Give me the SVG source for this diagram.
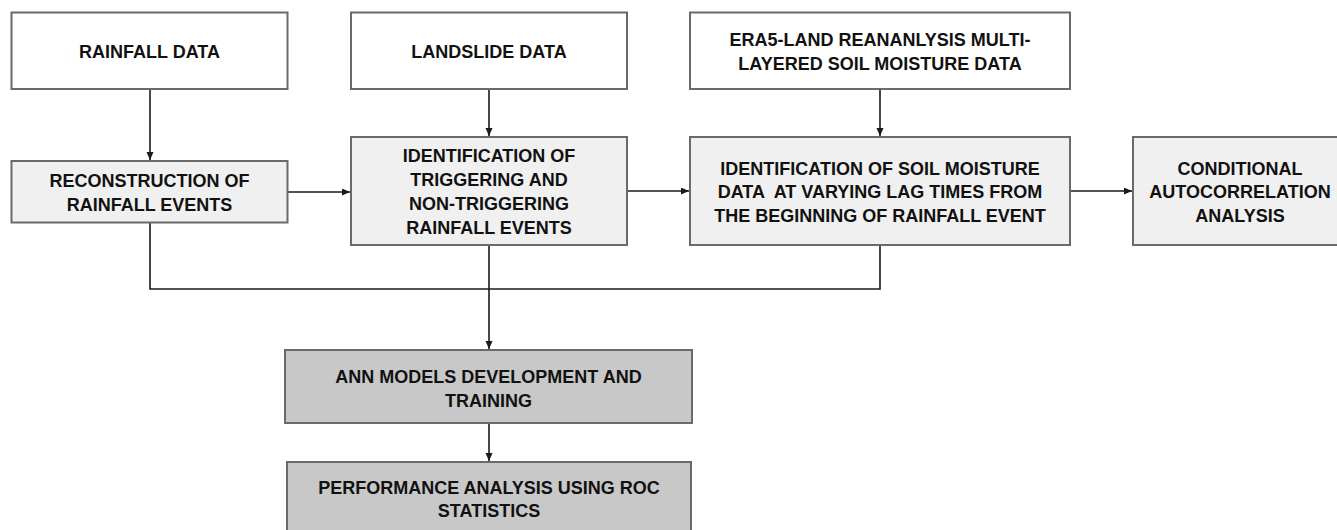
<svg xmlns="http://www.w3.org/2000/svg" width="1337" height="530" viewBox="0 0 1337 530">
<style>
.box{stroke:#6a6a6a;stroke-width:2}
.w{fill:#ffffff}
.l{fill:#f0f0f0}
.g{fill:#c8c8c8}
text{font-family:"Liberation Sans",Arial,sans-serif;font-weight:bold;font-size:18px;fill:#111;text-anchor:middle}
.c{fill:none;stroke:#1a1a1a;stroke-width:1.6}
</style>
<defs>
<marker id="ah" markerUnits="userSpaceOnUse" markerWidth="9" markerHeight="8" refX="8" refY="3.5" orient="auto">
<path d="M0,0 L8,3.5 L0,7 z" fill="#1a1a1a"/>
</marker>
</defs>
<rect width="1337" height="530" fill="#ffffff"/>
<g id="connectors">
<line class="c" x1="150" y1="89" x2="150" y2="160" marker-end="url(#ah)"/>
<line class="c" x1="489" y1="89" x2="489" y2="136" marker-end="url(#ah)"/>
<line class="c" x1="880" y1="89" x2="880" y2="136" marker-end="url(#ah)"/>
<line class="c" x1="287.5" y1="192" x2="350" y2="192" marker-end="url(#ah)"/>
<line class="c" x1="627" y1="191" x2="689" y2="191" marker-end="url(#ah)"/>
<line class="c" x1="1070" y1="191" x2="1132" y2="191" marker-end="url(#ah)"/>
<polyline class="c" points="150,222.5 150,289 880,289 880,245"/>
<line class="c" x1="489" y1="245" x2="489" y2="349" marker-end="url(#ah)"/>
<line class="c" x1="489" y1="423" x2="489" y2="461" marker-end="url(#ah)"/>
</g>
<g id="rainfall-data">
<rect class="box w" x="11.5" y="12.5" width="276" height="76.5"/>
<text x="149.5" y="58">RAINFALL DATA</text>
</g>
<g id="landslide-data">
<rect class="box w" x="351" y="12.5" width="276" height="76.5"/>
<text x="489" y="58">LANDSLIDE DATA</text>
</g>
<g id="era5-data">
<rect class="box w" x="690" y="12.5" width="380" height="76.5"/>
<text x="880" y="45.5">ERA5-LAND REANANLYSIS MULTI-</text>
<text x="880" y="69.5">LAYERED SOIL MOISTURE DATA</text>
</g>
<g id="reconstruction">
<rect class="box l" x="11.5" y="161" width="276" height="61.5"/>
<text x="149.5" y="186.5">RECONSTRUCTION OF</text>
<text x="149.5" y="210.5">RAINFALL EVENTS</text>
</g>
<g id="identification-events">
<rect class="box l" x="351" y="137" width="276" height="108"/>
<text x="489" y="162">IDENTIFICATION OF</text>
<text x="489" y="186">TRIGGERING AND</text>
<text x="489" y="210">NON-TRIGGERING</text>
<text x="489" y="234">RAINFALL EVENTS</text>
</g>
<g id="identification-soil">
<rect class="box l" x="690" y="137" width="380" height="108"/>
<text x="880" y="174.5">IDENTIFICATION OF SOIL MOISTURE</text>
<text x="880" y="198" xml:space="preserve">DATA  AT VARYING LAG TIMES FROM</text>
<text x="880" y="222">THE BEGINNING OF RAINFALL EVENT</text>
</g>
<g id="conditional">
<rect class="box l" x="1133" y="137" width="220" height="108"/>
<text x="1240" y="174.5">CONDITIONAL</text>
<text x="1240" y="198">AUTOCORRELATION</text>
<text x="1240" y="222">ANALYSIS</text>
</g>
<g id="ann">
<rect class="box g" x="285" y="350" width="407" height="73"/>
<text x="488.5" y="382.5">ANN MODELS DEVELOPMENT AND</text>
<text x="488.5" y="406.5">TRAINING</text>
</g>
<g id="performance">
<rect class="box g" x="287" y="462" width="404" height="80"/>
<text x="489" y="494">PERFORMANCE ANALYSIS USING ROC</text>
<text x="489" y="517">STATISTICS</text>
</g>
</svg>
